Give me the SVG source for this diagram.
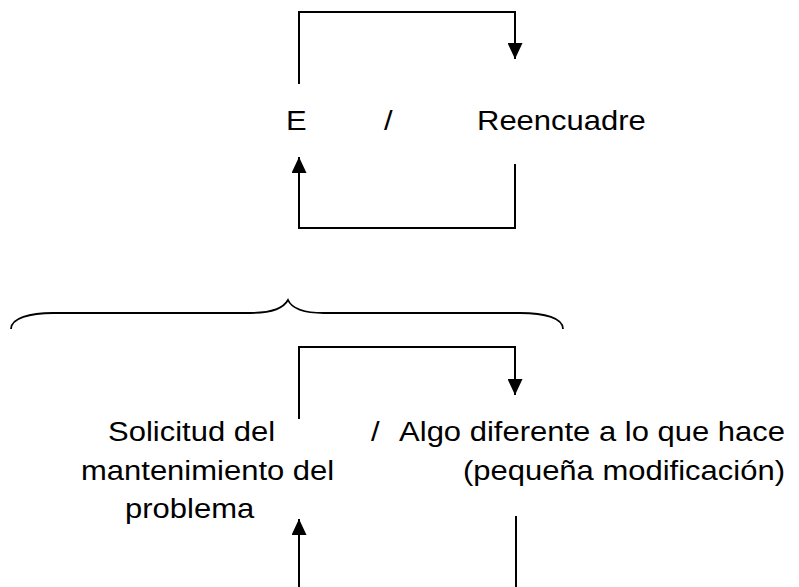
<svg xmlns="http://www.w3.org/2000/svg" width="799" height="587" viewBox="0 0 799 587">
  <style>
    .t { font-family: "Liberation Sans", Arial, sans-serif; font-size: 31px; fill: #000; }
    .ln { fill: none; stroke: #000; stroke-width: 2; }
    .br { fill: none; stroke: #000; stroke-width: 1.8; }
  </style>
  <defs>
    <marker id="ah" viewBox="0 0 16 15" refX="16" refY="7.5" markerWidth="16" markerHeight="15" markerUnits="userSpaceOnUse" orient="auto">
      <path d="M0,0 L16,7.5 L0,15 Z" fill="#000"/>
    </marker>
  </defs>
  <rect width="799" height="587" fill="#fff"/>

  <g id="node-e">
    <text class="t" transform="translate(286,130) scale(1,0.88)">E</text>
  </g>
  <g id="node-slash-top">
    <text class="t" transform="translate(384,130) scale(1,0.88)">/</text>
  </g>
  <g id="node-reencuadre">
    <text class="t" transform="translate(477,130) scale(1,0.88)">Reencuadre</text>
  </g>

  <g id="node-solicitud">
    <text class="t" transform="translate(108,441) scale(1,0.88)">Solicitud del</text>
    <text class="t" transform="translate(81,480) scale(1,0.88)">mantenimiento del</text>
    <text class="t" transform="translate(125,518) scale(1,0.88)">problema</text>
  </g>
  <g id="node-slash-bottom">
    <text class="t" transform="translate(371,441) scale(1,0.88)">/</text>
  </g>
  <g id="node-algo">
    <text class="t" text-anchor="end" transform="translate(785,441) scale(1,0.88)">Algo diferente a lo que hace</text>
    <text class="t" text-anchor="end" transform="translate(785,480) scale(1,0.88)">(pequeña modificación)</text>
  </g>

  <g id="brace">
    <path class="br" d="M11,329 C11,318 30,313 53,313 L250,313 C270,313 283,309 288,300 C292,309 305,313 324,313 L520,313 C545,313 563,318 563,329"/>
  </g>

  <g id="connectors">
    <path class="ln" d="M299,84 V12 H515 V59" marker-end="url(#ah)"/>
    <path class="ln" d="M515,164 V228 H299 V157" marker-end="url(#ah)"/>
    <path class="ln" d="M299,419 V347 H515 V395" marker-end="url(#ah)"/>
    <path class="ln" d="M516,516 V587"/>
    <path class="ln" d="M299,587 V519" marker-end="url(#ah)"/>
  </g>
</svg>
